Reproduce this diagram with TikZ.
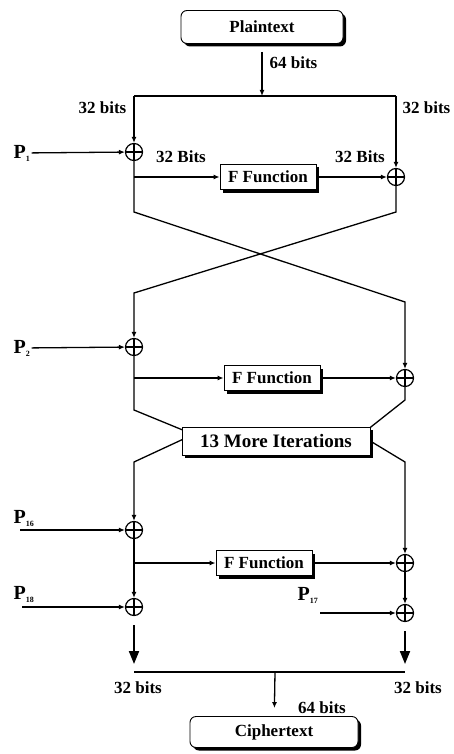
\documentclass[tikz,border=0pt]{standalone}
\usepackage{fontspec}
\setmainfont{Liberation Serif}
\usetikzlibrary{positioning,arrows.meta,shadows}
\newcommand{\pkey}[1]{P\raisebox{-3pt}{\fontsize{8}{8}\selectfont #1}}

\begin{document}
\begin{tikzpicture}[
        x=1pt, y=-1pt,
        line width=1.3pt,
        >={Latex[length=6pt,width=5pt]},
        box/.style={
            draw,
            line width=0.9pt,
            fill=white,
            minimum width=96pt,
            minimum height=25pt,
            inner sep=2pt,
            font=\fontsize{17}{19}\selectfont\bfseries,
            drop shadow={shadow xshift=3pt,shadow yshift=-3pt,fill=black,opacity=1}
        },
        endbox/.style={box, rounded corners=6pt, minimum width=162pt, minimum height=33pt},
        iterbox/.style={box, minimum width=188pt, minimum height=28pt, font=\fontsize{19}{21}\selectfont\bfseries},
        lbl/.style={font=\fontsize{17}{19}\selectfont\bfseries, inner sep=1pt},
        pl/.style={font=\fontsize{20}{22}\selectfont\bfseries, inner sep=1pt},
        xor/.style={
            draw,
            circle,
            minimum size=17pt,
            inner sep=0pt,
            line width=1.2pt,
            path picture={
                \draw[line width=1.2pt] (path picture bounding box.north) -- (path picture bounding box.south)
                    (path picture bounding box.west) -- (path picture bounding box.east);
            }
        },
        bigarr/.style={-{Triangle[length=13pt,width=10pt]}, line width=2pt}
    ]
        \useasboundingbox (0,0) rectangle (453,754);

        \node[endbox] (plain) at (262,27) {Plaintext};
        \coordinate (top) at (262,96);
        \coordinate (tl) at (134,96);
        \coordinate (tr) at (396,96);
        \draw[->, shorten <=8pt] (plain) -- (top);
        \node[lbl, anchor=west] (b64a) at (268,63) {64 bits};
        \draw (tl) -- (tr);
        \node[lbl, anchor=east] (b32a) at (128,108) {32 bits};
        \node[lbl, anchor=west] (b32b) at (401,108) {32 bits};

        \node[xor] (xl1) at (134,152) {};
        \node[xor] (xr1) at (396,177) {};
        \draw[->] (tl) -- (xl1);
        \draw[->] (tr) -- (xr1);
        \node[pl, anchor=west] (p1) at (12,153) {\pkey{1}};
        \draw[->] (p1) -- (xl1);
        \node[box] (f1) at (268,177) {F Function};
        \draw[->] (xl1 |- f1) -- (f1);
        \draw[->] (f1) -- (xr1);
        \node[lbl] (b32c) at (181,157) {32 Bits};
        \node[lbl] (b32d) at (360,157) {32 Bits};

        \node[xor] (xl2) at (134,347) {};
        \node[xor] (xr2) at (405,378) {};
        \draw[->] (xl1) -- (134,212) -- (405,302) -- (xr2);
        \draw[->] (xr1) -- (396,212) -- (134,293) -- (xl2);
        \node[pl, anchor=west] (p2) at (12,348) {\pkey{2}};
        \draw[->] (p2) -- (xl2);
        \node[box] (f2) at (272,378) {F Function};
        \draw[->] (xl2 |- f2) -- (f2);
        \draw[->] (f2) -- (xr2);

        \node[xor] (xl16) at (134,530) {};
        \node[xor] (xr3) at (405,563) {};
        \draw (xl2) -- (134,410) -- (190,433);
        \draw (xr2) -- (405,400) -- (362,434);
        \draw[->] (190,436) -- (134,462) -- (xl16);
        \draw[->] (362,436) -- (405,462) -- (xr3);
        \node[iterbox] (iter) at (276,441) {13 More Iterations};

        \node[pl, anchor=west] (p16) at (12,518) {\pkey{16}};
        \coordinate (p16in) at (20,530);
        \draw[->] (p16in) -- (xl16);
        \node[box] (f3) at (264,563) {F Function};
        \draw[->] (xl16 |- f3) -- (f3);
        \draw[->] (f3) -- (xr3);

        \node[xor] (xl18) at (134,607) {};
        \node[xor] (xr17) at (405,613) {};
        \draw[->] (xl16) -- (xl18);
        \draw[->] (xr3) -- (xr17);
        \node[pl, anchor=west] (p18) at (12,594) {\pkey{18}};
        \coordinate (p18in) at (22,607);
        \draw[->] (p18in) -- (xl18);
        \node[pl, anchor=west] (p17) at (296,595) {\pkey{17}};
        \coordinate (p17in) at (320,613);
        \draw[->] (p17in) -- (xr17);

        \coordinate (bl) at (134,672);
        \coordinate (br) at (405,672);
        \coordinate (mid) at (275,672);
        \draw[bigarr, shorten <=9pt, shorten >=8pt] (xl18) -- (bl);
        \draw[bigarr, shorten <=9pt, shorten >=8pt] (xr17) -- (br);
        \draw (bl) -- (br);
        \node[lbl] (b32e) at (138,688) {32 bits};
        \node[lbl] (b32f) at (418,688) {32 bits};

        \node[endbox, minimum width=168pt, minimum height=31pt] (ciph) at (274,732) {Ciphertext};
        \draw[->, shorten >=8pt] (mid) -- (ciph);
        \node[lbl] (b64b) at (322,708) {64 bits};
    \end{tikzpicture}
\end{document}
